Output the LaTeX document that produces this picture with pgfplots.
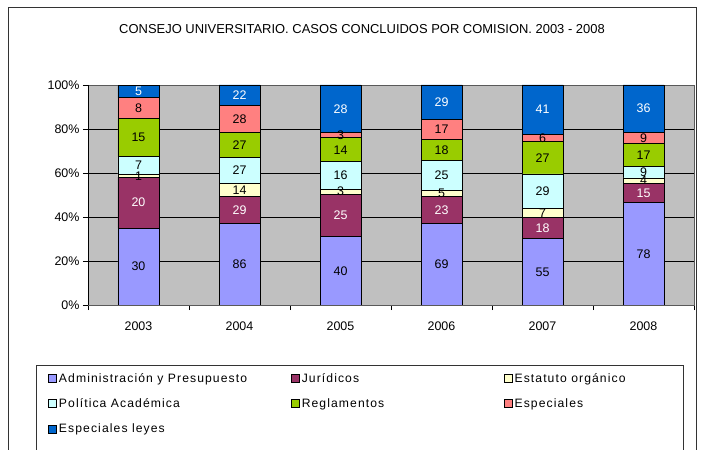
\documentclass[border=0pt]{standalone}
\usepackage{pgfplots}
\pgfplotsset{compat=1.18}
\usepackage{pgfplotstable}
\usepackage{fontspec}
\setmainfont{Liberation Sans}
\newfontfamily\legfont[LetterSpace=9]{Liberation Sans}
\definecolor{cA}{HTML}{9999FF}
\definecolor{cJ}{HTML}{993366}
\definecolor{cE}{HTML}{FFFFCC}
\definecolor{cP}{HTML}{CCFFFF}
\definecolor{cR}{HTML}{99CC00}
\definecolor{cS}{HTML}{FF8080}
\definecolor{cL}{HTML}{0066CC}
\definecolor{bg}{HTML}{C0C0C0}
\pgfplotstableread{
x year A J E P R S L
0 2003 30 20 1 7 15 8 5
1 2004 86 29 14 27 27 28 22
2 2005 40 25 3 16 14 3 28
3 2006 69 23 5 25 18 17 29
4 2007 55 18 7 29 27 6 41
5 2008 78 15 4 9 17 9 36
}\data
\newcommand{\tot}{(\thisrow{A}+\thisrow{J}+\thisrow{E}+\thisrow{P}+\thisrow{R}+\thisrow{S}+\thisrow{L})}
\pgfplotsset{
  /pgf/number format/assume math mode=true,
  common/.style={
    at={(88bp,145bp)}, anchor=south west,
    scale only axis, width=606bp, height=220bp,
    xmin=-0.5, xmax=5.5, ymin=0, ymax=100, enlargelimits=false,
  },
  lab/.style={draw=none, mark=none, nodes near coords={\pgfmathprintnumber[assume math mode=true]{\pgfplotspointmeta}},
    point meta=explicit, every node near coord/.append style={anchor=center, text=#1, inner sep=0pt}},
}
\begin{document}
\begin{tikzpicture}[font=\fontsize{12.5}{14}\selectfont]
\path[use as bounding box] (0,0) rectangle (702bp,450bp);
\begin{axis}[common,
  ybar stacked, bar width=41bp,
  axis background/.style={fill=bg},
  axis line style={draw=gray!70!black},
  xtick={-0.5,0.5,...,5.5},
  x tick label as interval,
  xticklabels={2003,2004,2005,2006,2007,2008},
  ytick={0,20,...,100},
  yticklabel={\pgfmathprintnumber{\tick}\%},
  tick align=outside, tick pos=left, major tick length=5bp,
  tick style={black, line width=0.6bp},
  ymajorgrids, major grid style={black, line width=0.5bp},
  xticklabel style={yshift=-8bp},
  legend columns=3,
  legend cell align=left,
  legend style={at={(-0.066,-0.30)}, anchor=north west, draw=none, fill=none,
    inner sep=0pt, row sep=11bp, column sep=0pt, font=\legfont\fontsize{12.2}{14}\selectfont},
  legend image code/.code={\draw[#1,draw=black,line width=0.8bp] (0bp,-4bp) rectangle (8bp,4bp);},
  every axis plot/.append style={draw=black, line width=0.9bp},
]
\addplot[fill=cA] table[x=x, y expr={100*\thisrow{A}/\tot}] {\data};
\addlegendentry{\makebox[230bp][l]{Administración y Presupuesto}}
\addplot[fill=cJ] table[x=x, y expr={100*\thisrow{J}/\tot}] {\data};
\addlegendentry{\makebox[200bp][l]{Jurídicos}}
\addplot[fill=cE] table[x=x, y expr={100*\thisrow{E}/\tot}] {\data};
\addlegendentry{Estatuto orgánico}
\addplot[fill=cP] table[x=x, y expr={100*\thisrow{P}/\tot}] {\data};
\addlegendentry{\makebox[230bp][l]{Política Académica}}
\addplot[fill=cR] table[x=x, y expr={100*\thisrow{R}/\tot}] {\data};
\addlegendentry{\makebox[200bp][l]{Reglamentos}}
\addplot[fill=cS] table[x=x, y expr={100*\thisrow{S}/\tot}] {\data};
\addlegendentry{Especiales}
\addplot[fill=cL] table[x=x, y expr={100*\thisrow{L}/\tot}] {\data};
\addlegendentry{\makebox[230bp][l]{Especiales leyes}}
\draw[black, line width=0.6bp] (rel axis cs:0,1) -- (rel axis cs:0,0) -- (rel axis cs:1,0);
\end{axis}
\begin{axis}[common, hide axis]
\addplot[lab=black] table[x=x, y expr={100*(0.5*\thisrow{A})/\tot}, meta=A] {\data};
\addplot[lab=white] table[x=x, y expr={100*(\thisrow{A}+0.5*\thisrow{J})/\tot}, meta=J] {\data};
\addplot[lab=black] table[x=x, y expr={100*(\thisrow{A}+\thisrow{J}+0.5*\thisrow{E})/\tot}, meta=E] {\data};
\addplot[lab=black] table[x=x, y expr={100*(\thisrow{A}+\thisrow{J}+\thisrow{E}+0.5*\thisrow{P})/\tot}, meta=P] {\data};
\addplot[lab=black] table[x=x, y expr={100*(\thisrow{A}+\thisrow{J}+\thisrow{E}+\thisrow{P}+0.5*\thisrow{R})/\tot}, meta=R] {\data};
\addplot[lab=black] table[x=x, y expr={100*(\thisrow{A}+\thisrow{J}+\thisrow{E}+\thisrow{P}+\thisrow{R}+0.5*\thisrow{S})/\tot}, meta=S] {\data};
\addplot[lab=white] table[x=x, y expr={100*(\thisrow{A}+\thisrow{J}+\thisrow{E}+\thisrow{P}+\thisrow{R}+\thisrow{S}+0.5*\thisrow{L})/\tot}, meta=L] {\data};
\end{axis}
\node[font=\fontsize{13}{15}\selectfont] at (362bp,421bp) {CONSEJO UNIVERSITARIO. CASOS CONCLUIDOS POR COMISION. 2003 - 2008};
\draw[black!80, line width=0.8bp] (8bp,0) -- (8bp,443bp) -- (696bp,443bp) -- (696bp,0);
\draw[black!80, line width=0.8bp] (36bp,0) -- (36bp,85bp) -- (683bp,85bp) -- (683bp,0);
\end{tikzpicture}
\end{document}
